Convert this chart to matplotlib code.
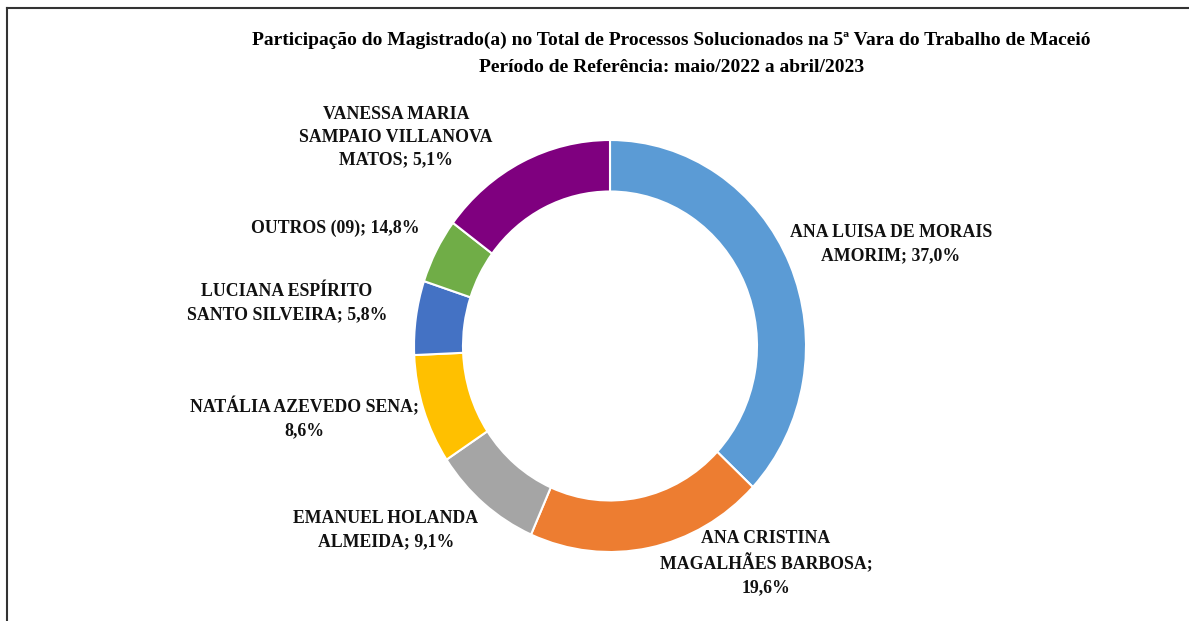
import matplotlib.pyplot as plt
from matplotlib.lines import Line2D

# dados do grafico (sentido horario a partir do topo)
nomes = ["ANA LUISA DE MORAIS\nAMORIM; 37,0%",
         "ANA CRISTINA\nMAGALHÃES BARBOSA;\n19,6%",
         "EMANUEL HOLANDA\nALMEIDA; 9,1%",
         "NATÁLIA AZEVEDO SENA;\n8,6%",
         "LUCIANA ESPÍRITO\nSANTO SILVEIRA; 5,8%",
         "OUTROS (09); 14,8%",
         "VANESSA MARIA\nSAMPAIO VILLANOVA\nMATOS; 5,1%"]
valores = [37.0, 19.6, 9.1, 8.6, 5.8, 5.1, 14.8]
cores = ["#5B9BD5", "#ED7D31", "#A5A5A5", "#FFC000", "#4472C4", "#70AD47", "#7F007F"]

# posicao dos rotulos (pixels, centro do bloco de texto)
pos_rotulos = [(891, 244), (766, 563), (386, 530), (304, 418),
               (287, 303), (335, 228), (396, 137)]

W, H = 1189, 621
plt.rcParams['font.family'] = ['Liberation Serif', 'DejaVu Serif']

fig = plt.figure(figsize=(W / 100, H / 100), dpi=100)

# rosca ocupa x 414..806, y 140..552
ax = fig.add_axes([414 / W, 1 - 552 / H, 392 / W, 412 / H])
ax.pie(valores, colors=cores, startangle=90, counterclock=False, radius=1.0,
       wedgeprops=dict(width=0.25, edgecolor="white", linewidth=1.5))
ax.set_aspect("auto")
ax.set_xlim(-1, 1)
ax.set_ylim(-1, 1)
ax.axis("off")

for txt, (px, py) in zip(nomes, pos_rotulos):
    fig.text(px / W, 1 - py / H, txt, ha="center", va="center", fontsize=12.8,
             fontweight="bold", linespacing=1.45, color="#111111")

fig.text(671.5 / W, 1 - 40 / H,
         "Participação do Magistrado(a) no Total de Processos Solucionados na 5ª Vara do Trabalho de Maceió",
         ha="center", va="center", fontsize=14, fontweight="bold")
fig.text(671.5 / W, 1 - 67 / H, "Período de Referência: maio/2022 a abril/2023",
         ha="center", va="center", fontsize=14, fontweight="bold")

# moldura
fig.add_artist(Line2D([7 / W, 1], [1 - 8 / H, 1 - 8 / H], color="#333333", lw=1.5))
fig.add_artist(Line2D([7 / W, 7 / W], [0, 1 - 8 / H], color="#333333", lw=1.5))

fig.savefig("out.png", dpi=100, facecolor="white")
